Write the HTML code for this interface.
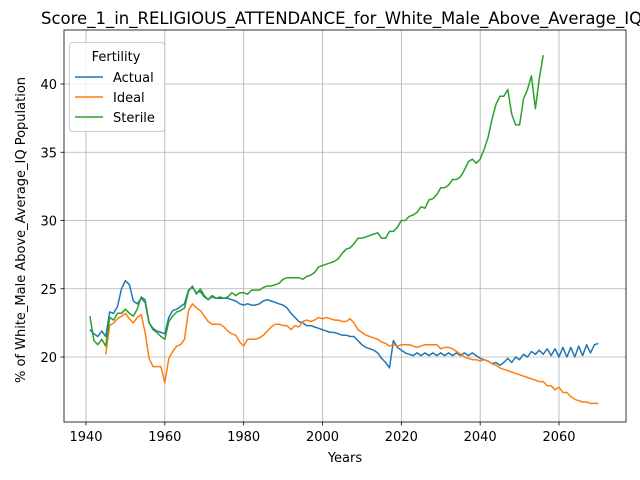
<!DOCTYPE html>
<html><head><meta charset="utf-8"><style>body{margin:0;background:#fff}svg{display:block;font-family:"DejaVu Sans","Liberation Sans",sans-serif}</style></head>
<body>
<svg id="chart" width="640" height="480"></svg>
<script>
const years = []; for (let y = 1941; y <= 2070; y++) years.push(y);
const actual = [22.0,21.7,21.5,21.9,21.5,23.3,23.2,23.7,25.0,25.6,25.3,24.1,23.9,24.3,24.0,22.5,22.1,21.9,21.8,21.7,22.9,23.4,23.5,23.7,23.9,24.9,25.1,24.7,24.8,24.4,24.2,24.5,24.3,24.3,24.3,24.3,24.2,24.1,23.9,23.8,23.9,23.8,23.8,23.9,24.1,24.2,24.1,24.0,23.9,23.8,23.6,23.2,22.9,22.6,22.5,22.3,22.3,22.2,22.1,22.0,21.9,21.8,21.8,21.7,21.6,21.6,21.5,21.5,21.2,20.9,20.7,20.6,20.5,20.3,19.9,19.6,19.2,21.2,20.7,20.5,20.3,20.2,20.1,20.3,20.1,20.3,20.1,20.3,20.1,20.3,20.1,20.3,20.1,20.3,20.1,20.3,20.1,20.3,20.1,19.9,19.8,19.7,19.5,19.6,19.4,19.6,19.9,19.6,20.0,19.8,20.2,20.0,20.4,20.2,20.5,20.2,20.6,20.1,20.6,20.0,20.7,20.0,20.7,20.0,20.8,20.1,20.9,20.3,20.9,21.0];
const ideal = [null,null,null,null,20.2,22.3,22.5,22.8,23.0,23.2,22.8,22.5,22.9,23.1,21.8,19.9,19.3,19.3,19.3,18.1,19.9,20.4,20.8,20.9,21.3,23.4,23.9,23.6,23.4,23.0,22.6,22.4,22.4,22.4,22.2,21.9,21.7,21.6,21.1,20.8,21.3,21.3,21.3,21.4,21.6,21.9,22.2,22.4,22.4,22.3,22.3,22.0,22.3,22.2,22.6,22.7,22.6,22.7,22.9,22.8,22.9,22.8,22.7,22.7,22.6,22.6,22.8,22.5,22.0,21.8,21.6,21.5,21.4,21.3,21.1,21.0,20.8,20.9,20.8,20.9,20.9,20.9,20.8,20.7,20.8,20.9,20.9,20.9,20.9,20.6,20.7,20.7,20.6,20.4,20.2,20.0,19.9,19.8,19.8,19.7,19.8,19.7,19.5,19.4,19.2,19.1,19.0,18.9,18.8,18.7,18.6,18.5,18.4,18.3,18.2,18.2,17.9,17.9,17.6,17.8,17.4,17.4,17.1,16.9,16.8,16.7,16.7,16.6,16.6,16.6];
const sterile = [23.0,21.2,20.9,21.3,20.8,22.9,22.7,23.2,23.2,23.5,23.2,23.0,23.5,24.4,24.2,22.5,22.0,21.8,21.5,21.3,22.6,23.0,23.3,23.4,23.6,24.8,25.2,24.6,25.0,24.5,24.2,24.4,24.3,24.4,24.3,24.4,24.7,24.5,24.7,24.7,24.6,24.9,24.9,24.9,25.1,25.2,25.2,25.3,25.4,25.7,25.8,25.8,25.8,25.8,25.7,25.9,26.0,26.2,26.6,26.7,26.8,26.9,27.0,27.2,27.6,27.9,28.0,28.3,28.7,28.7,28.8,28.9,29.0,29.1,28.7,28.7,29.2,29.2,29.5,30.0,30.0,30.3,30.4,30.6,31.0,30.9,31.5,31.6,31.9,32.4,32.4,32.6,33.0,33.0,33.2,33.7,34.3,34.5,34.2,34.5,35.2,36.1,37.4,38.5,39.1,39.1,39.6,37.8,37.0,37.0,38.9,39.6,40.6,38.2,40.4,42.1];
const xTicks = [1940,1960,1980,2000,2020,2040,2060];
const yTicks = [20,25,30,35,40];
const seriesNames = ["Actual","Ideal","Sterile"];
const colors = ["#1f77b4","#ff7f0e","#2ca02c"];

const L=64,R=626,T=30,B=422;
const xs = y => 86 + (y-1940)*(559-86)/120;
const ys = v => 357 - (v-20)*13.65;
const svg = document.getElementById('chart');
const NS='http://www.w3.org/2000/svg';
function mk(tag, attrs, parent){const e=document.createElementNS(NS,tag);for(const k in attrs)e.setAttribute(k,attrs[k]);(parent||svg).appendChild(e);return e;}

xTicks.forEach(t=>{
  const g=mk('line',{x1:xs(t),x2:xs(t),y1:T,y2:B,stroke:'#b0b0b0','stroke-width':0.8});
  
  
  mk('line',{x1:xs(t),x2:xs(t),y1:B,y2:B+3.5,stroke:'#000','stroke-width':0.8});
  const tx=mk('text',{x:xs(t),y:B+19,'text-anchor':'middle','font-size':13});tx.textContent=t;
  
  
});
yTicks.forEach(t=>{
  const g=mk('line',{x1:L,x2:R,y1:ys(t),y2:ys(t),stroke:'#b0b0b0','stroke-width':0.8});
  
  
  mk('line',{x1:L-3.5,x2:L,y1:ys(t),y2:ys(t),stroke:'#000','stroke-width':0.8});
  const tx=mk('text',{x:L-7,y:ys(t)+5,'text-anchor':'end','font-size':13});tx.textContent=t;
  
  
});
[actual,ideal,sterile].forEach((arr,i)=>{
  let d='';let pen=false;
  arr.forEach((v,j)=>{ if(v==null){pen=false;return;} d+=(pen?'L':'M')+xs(years[j]).toFixed(1)+','+ys(v).toFixed(1); pen=true;});
  const p=mk('path',{d:d,fill:'none',stroke:colors[i],'stroke-width':1.5,'stroke-linejoin':'round'});
  
  
});
const frame=mk('rect',{x:L,y:T,width:R-L,height:B-T,fill:'none',stroke:'#000','stroke-width':0.8});



const title=mk('text',{x:41,y:24,'text-anchor':'start','font-size':16.5});title.textContent='Score_1_in_RELIGIOUS_ATTENDANCE_for_White_Male_Above_Average_IQ';


const xl=mk('text',{x:345,y:462,'text-anchor':'middle','font-size':13});xl.textContent='Years';


const yl=mk('text',{x:0,y:0,'text-anchor':'middle','font-size':13,transform:'translate(25,230) rotate(-90)'});yl.textContent='% of White_Male Above_Average_IQ Population';



const lg=mk('g',{});


mk('rect',{x:69.5,y:42.5,width:95,height:89,rx:3,fill:'#fff','fill-opacity':0.8,stroke:'#ccc'},lg);
const lt=mk('text',{x:116,y:61,'text-anchor':'middle','font-size':13},lg);lt.textContent='Fertility';
seriesNames.forEach((n,i)=>{
  const yy=77+i*20;
  mk('line',{x1:75,x2:103,y1:yy,y2:yy,stroke:colors[i],'stroke-width':1.5},lg);
  const t=mk('text',{x:113,y:yy+5,'font-size':13},lg);t.textContent=n;
  
  
});
</script>
</body></html>
